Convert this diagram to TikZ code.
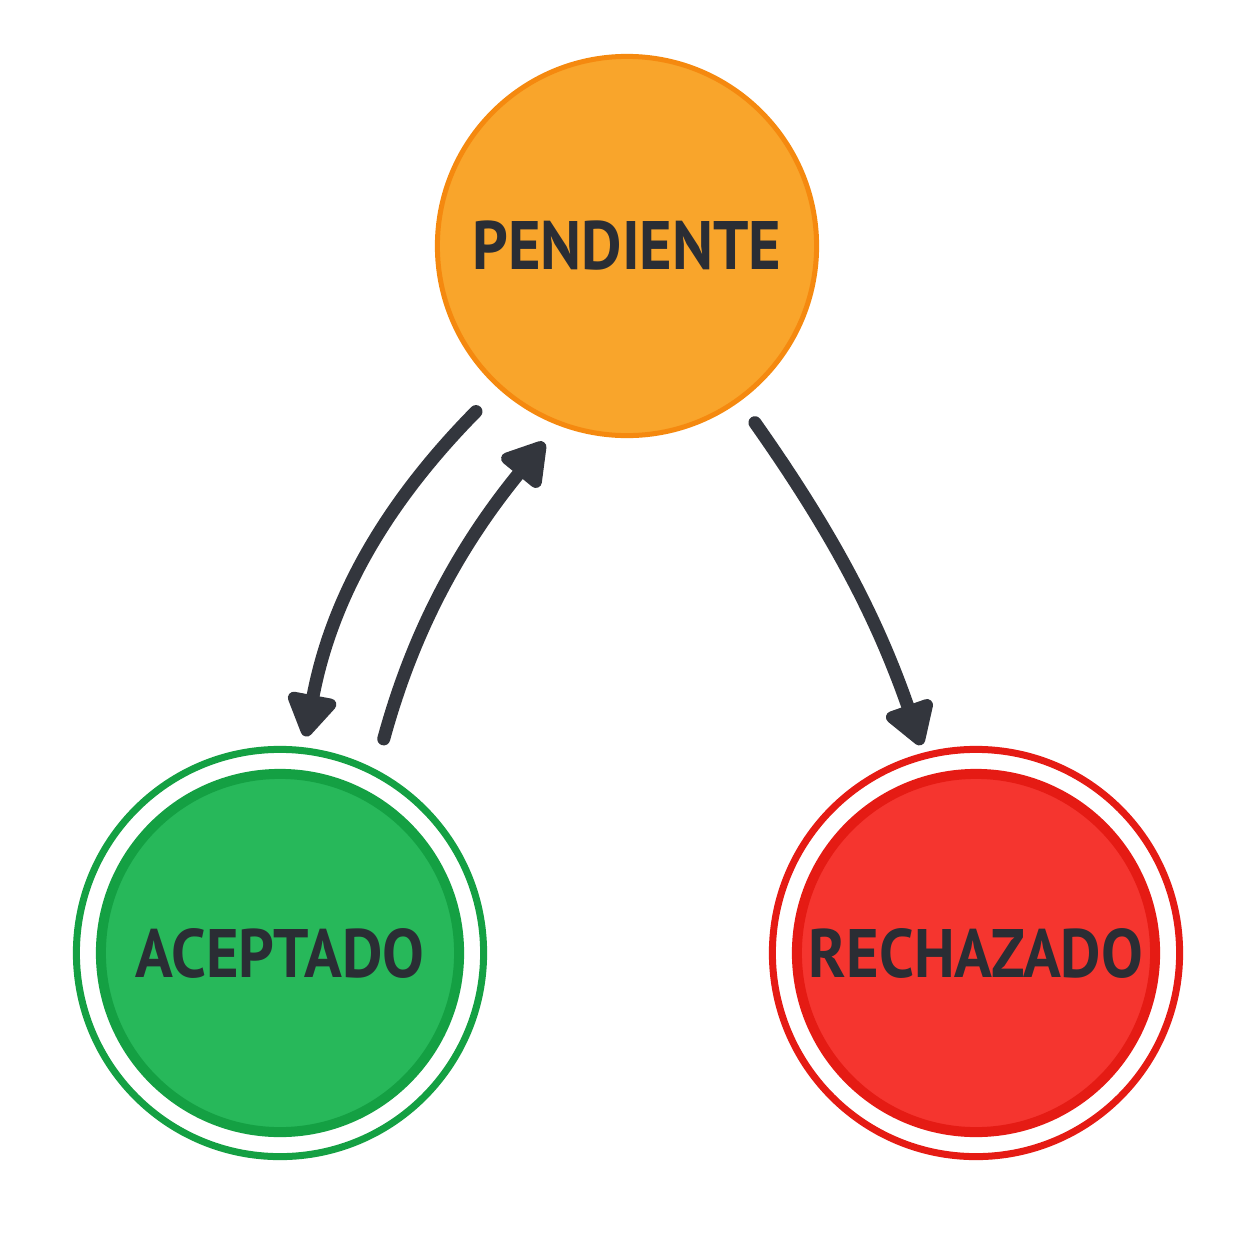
\documentclass[tikz,border=0pt]{standalone}
\usepackage{fontspec}
\usepackage{xcolor}
\newfontfamily\statefont[FakeStretch=0.91]{PT Sans}
\usetikzlibrary{positioning,arrows.meta}

\definecolor{pendfill}{HTML}{F9A52B}
\definecolor{penddraw}{HTML}{F5890F}
\definecolor{acepfill}{HTML}{27B85A}
\definecolor{acepdraw}{HTML}{14A043}
\definecolor{rechfill}{HTML}{F5352F}
\definecolor{rechdraw}{HTML}{E51B14}
\definecolor{labtext}{HTML}{2A2D34}
\definecolor{arrowgray}{HTML}{33363D}

\begin{document}
\begin{tikzpicture}[
    x=0.01cm, y=-0.01cm,
    state/.style     ={circle, inner sep=0pt, text=labtext,
                       font=\statefont\bfseries\fontsize{19.5}{20}\selectfont},
    pend/.style      ={state, minimum size=3.79cm, fill=pendfill, draw=penddraw, line width=0.05cm},
    acep/.style      ={state, minimum size=3.58cm, fill=acepfill, draw=acepdraw, line width=0.10cm},
    rech/.style      ={state, minimum size=3.58cm, fill=rechfill, draw=rechdraw, line width=0.10cm},
    ring/.style      ={line width=0.07cm},
    flow/.style      ={draw=arrowgray, line width=0.13cm, line cap=round,
                       -{Triangle[length=0.48cm, width=0.55cm, round]}}
  ]
    % page frame (1254 x 1254 px)
    \useasboundingbox[fill=white] (0,0) rectangle (1254,1254);

    % --- states ---
    \node[pend] (P) at (627,246) {PENDIENTE};
    \node[acep] (A) at (280,953) {ACEPTADO};
    \node[rech] (R) at (976,953) {RECHAZADO};

    % final states get an outer ring
    \draw[ring, draw=acepdraw] (A.center) circle[radius=2.035cm];
    \draw[ring, draw=rechdraw] (R.center) circle[radius=2.035cm];

    % --- transitions ---
    \draw[flow, shorten <=0.32cm, shorten >=0.34cm] (P.228) to[bend right=17] (A.84);
    \draw[flow, shorten <=0.55cm, shorten >=0.22cm] (A.61) to[bend left=12] (P.249);
    \draw[flow, shorten <=0.26cm, shorten >=0.31cm] (P.-54) to[bend left=8] (R.104);
  \end{tikzpicture}
\end{document}
